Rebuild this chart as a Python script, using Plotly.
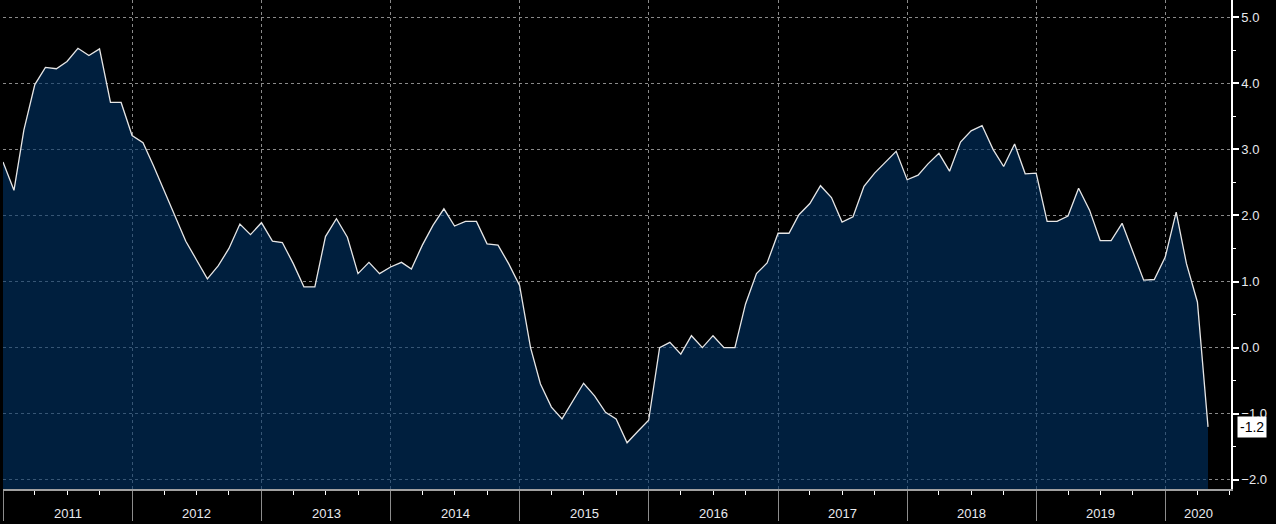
import pandas as pd
import plotly.graph_objects as go

# ---- data ----
start_month = "2011-01-01"
values = [
    2.81, 2.38, 3.29, 3.98, 4.24, 4.22, 4.33, 4.53, 4.42, 4.52, 3.71, 3.71,   # 2011
    3.21, 3.10, 2.76, 2.38, 2.00, 1.61, 1.33, 1.04, 1.24, 1.50, 1.87, 1.71,   # 2012
    1.89, 1.61, 1.59, 1.27, 0.92, 0.92, 1.68, 1.95, 1.67, 1.12, 1.29, 1.12,   # 2013
    1.22, 1.29, 1.19, 1.55, 1.85, 2.10, 1.84, 1.91, 1.91, 1.57, 1.55, 1.27,   # 2014
    0.94, 0.00, -0.55, -0.90, -1.08, -0.81, -0.54, -0.73, -0.98, -1.08, -1.44, -1.27,  # 2015
    -1.10, 0.00, 0.08, -0.10, 0.18, 0.00, 0.18, 0.00, 0.00, 0.66, 1.12, 1.28,  # 2016
    1.73, 1.73, 2.01, 2.18, 2.45, 2.27, 1.90, 1.98, 2.44, 2.64, 2.81, 2.97,   # 2017
    2.54, 2.61, 2.78, 2.94, 2.67, 3.11, 3.28, 3.36, 3.00, 2.74, 3.08, 2.63,   # 2018
    2.64, 1.91, 1.91, 1.99, 2.41, 2.08, 1.62, 1.62, 1.88, 1.47, 1.02, 1.03,   # 2019
    1.37, 2.05, 1.27, 0.69, -1.20,                                            # 2020
]
year_labels = ["2011", "2012", "2013", "2014", "2015", "2016", "2017", "2018", "2019", "2020"]
last_label = "-1.2"

dates = pd.date_range(start_month, periods=len(values), freq="MS")

X_RANGE = ["2011-01-01", "2020-07-05"]
Y_MIN, Y_MAX = -2.14, 5.26

W, H = 1276, 524
M_L, M_R, M_T, M_B = 3, 45, 0, 35
plot_h = H - M_T - M_B
LABEL_Y = -(513 - plot_h) / plot_h   # paper coordinate of year label centres

fig = go.Figure()
# baseline at bottom of axis so the area fills down to the axis
fig.add_trace(go.Scatter(x=dates, y=[Y_MIN] * len(values), mode="lines",
                         line=dict(width=0, color="rgba(0,0,0,0)"),
                         hoverinfo="skip", showlegend=False))
fig.add_trace(go.Scatter(x=dates, y=values, mode="lines", fill="tonexty",
                         fillcolor="rgba(0,52,104,0.6)",
                         line=dict(color="#e6e6e6", width=1.3),
                         showlegend=False))

# year labels centred on the visible part of each year
rs, re_ = pd.Timestamp(X_RANGE[0]), pd.Timestamp(X_RANGE[1])
annotations = []
for lab in year_labels:
    a = max(pd.Timestamp(f"{lab}-01-01"), rs)
    b = min(pd.Timestamp(f"{int(lab) + 1}-01-01"), re_)
    mid = a + (b - a) / 2
    annotations.append(dict(x=mid, xref="x", y=LABEL_Y, yref="paper", text=lab,
                            showarrow=False, xanchor="center", yanchor="middle",
                            font=dict(family="Liberation Sans", size=13, color="#e8eaee")))

# last value tag
annotations.append(dict(x=1, xref="paper", y=values[-1], yref="y", text=last_label,
                        showarrow=False, xanchor="left", yanchor="middle", xshift=6,
                        bgcolor="#ffffff", borderpad=2,
                        font=dict(family="Liberation Sans", size=14, color="#000000")))

fig.update_layout(
    width=W, height=H,
    margin=dict(l=M_L, r=M_R, t=M_T, b=M_B),
    paper_bgcolor="#000000", plot_bgcolor="#000000",
    showlegend=False,
    annotations=annotations,
    xaxis=dict(
        type="date", range=X_RANGE,
        tick0="2011-01-01", dtick="M12",
        ticks="outside", ticklen=30, tickcolor="#8c8c8c", tickwidth=1,
        showticklabels=False,
        showgrid=True, gridcolor="#8a8a8a", griddash="dot", gridwidth=1,
        showline=True, linecolor="#a0a0a0", linewidth=1.5,
        zeroline=False,
        minor=dict(tick0="2011-01-01", dtick="M3", ticks="outside", ticklen=4,
                   tickcolor="#ffffff", tickwidth=1, showgrid=False),
    ),
    yaxis=dict(
        side="right", range=[Y_MIN, Y_MAX],
        tick0=0, dtick=1, tickformat=".1f",
        ticks="outside", ticklen=6, tickwidth=2, tickcolor="#ffffff",
        tickfont=dict(family="Liberation Sans", size=13, color="#e8eaee"),
        showgrid=True, gridcolor="#8a8a8a", griddash="dot", gridwidth=1,
        showline=True, linecolor="#ffffff", linewidth=1.5,
        zeroline=False,
        minor=dict(tick0=0, dtick=0.5, ticks="outside", ticklen=3,
                   tickcolor="#ffffff", tickwidth=1, showgrid=False),
    ),
)

fig.write_html("out.html")
